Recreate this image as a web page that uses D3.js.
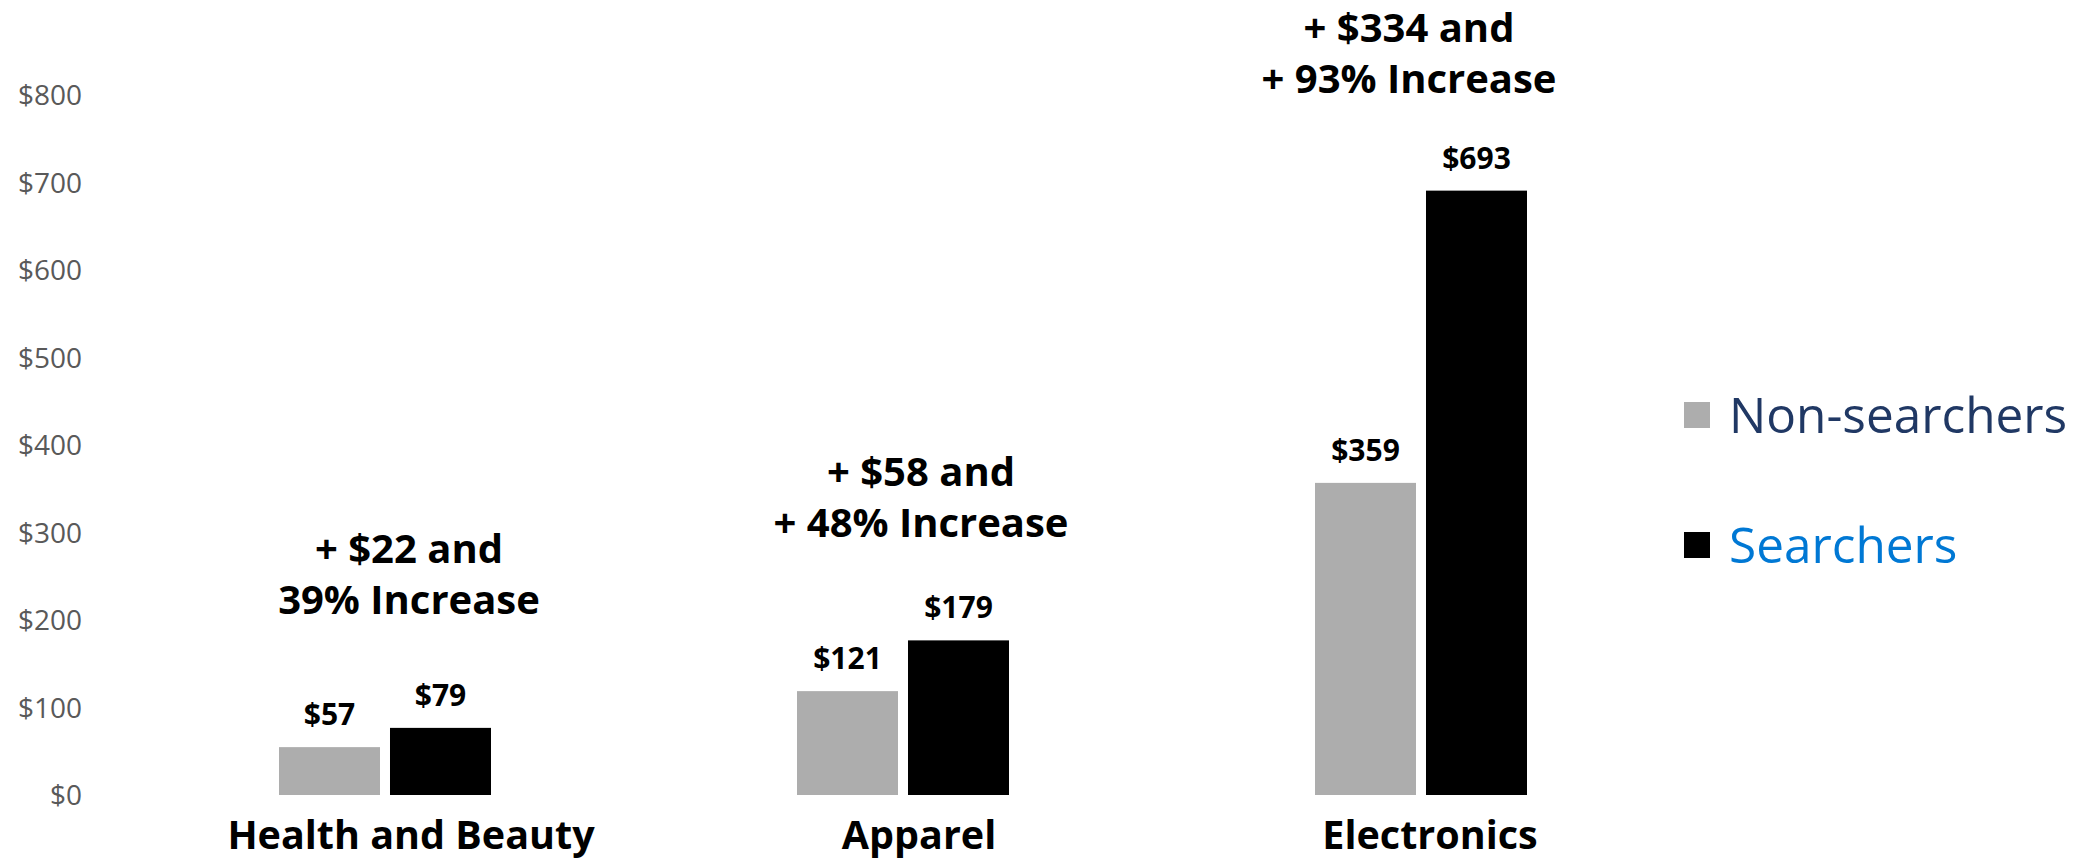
<!DOCTYPE html>
<html>
<head>
<meta charset="utf-8">
<script src="https://cdn.jsdelivr.net/npm/d3@7"></script>
<style>
  html, body { margin: 0; padding: 0; background: #ffffff; }
  svg { display: block; }
  text { font-family: "Open Sans", "Noto Sans", sans-serif; }
</style>
</head>
<body>
<svg id="chart" width="2088" height="860"></svg>
<script>
// Average spend per shopper, by category
const categories = ["Health and Beauty", "Apparel", "Electronics"];
const seriesNames = ["Non-searchers", "Searchers"];
const nonSearchers = [57, 121, 359];
const searchers = [79, 179, 693];
const yTicks = [0, 100, 200, 300, 400, 500, 600, 700, 800];
const annotationLines = [
  ["+ $22 and", "39% Increase"],
  ["+ $58 and", "+ 48% Increase"],
  ["+ $334 and", "+ 93% Increase"]
];

// Styling
const barColors = ["#adadad", "#000000"];
const legendTextColors = ["#203864", "#0078d4"];
// per-category nudges for the category labels and the callout text blocks
const labelNudge = [26, 16, 9];
const calloutNudge = [
  { dx: 24, gap: 113 },
  { dx: 18, gap: 102 },
  { dx: -12, gap: 97 }
];

const svg = d3.select("#chart");
const plot = { left: 126, right: 1680, top: 96, bottom: 796 };

const x0 = d3.scaleBand()
  .domain(categories)
  .range([plot.left, plot.right])
  .paddingInner(0)
  .paddingOuter(0);

const groupWidth = 214;
const x1 = d3.scaleBand()
  .domain(seriesNames)
  .range([-groupWidth / 2, groupWidth / 2])
  .paddingInner(0.072);

const y = d3.scaleLinear()
  .domain([0, 800])
  .range([plot.bottom, plot.top]);

// y axis (labels only)
const yAxis = d3.axisLeft(y)
  .tickValues(yTicks)
  .tickSize(0)
  .tickPadding(44)
  .tickFormat(d => "$" + d);

const gy = svg.append("g")
  .attr("transform", `translate(${plot.left},0)`)
  .call(yAxis);
gy.select(".domain").remove();
gy.selectAll("text")
  .attr("fill", "#595959")
  .style("font-size", "28px")
  .style("font-family", "'Open Sans', sans-serif");

// x axis (category labels only)
const xAxis = d3.axisBottom(x0)
  .tickSize(0)
  .tickPadding(25);
const gx = svg.append("g")
  .attr("transform", `translate(0,${plot.bottom})`)
  .call(xAxis);
gx.select(".domain").remove();
gx.selectAll("text")
  .attr("fill", "#000")
  .attr("dx", (d, i) => labelNudge[i])
  .style("font-size", "39.5px")
  .style("font-weight", "700")
  .style("font-family", "'Open Sans', sans-serif");

// bars
const rows = categories.map((c, i) => ({
  category: c,
  values: [
    { series: seriesNames[0], value: nonSearchers[i], color: barColors[0] },
    { series: seriesNames[1], value: searchers[i], color: barColors[1] }
  ]
}));

const groups = svg.append("g").selectAll("g.group")
  .data(rows)
  .join("g")
  .attr("class", "group")
  .attr("transform", d => `translate(${x0(d.category) + x0.bandwidth() / 2},0)`);

groups.selectAll("rect")
  .data(d => d.values)
  .join("rect")
  .attr("x", d => x1(d.series))
  .attr("width", x1.bandwidth())
  .attr("y", d => y(d.value))
  .attr("height", d => y(0) - y(d.value))
  .attr("fill", d => d.color)
  .attr("stroke", "#ffffff")
  .attr("stroke-width", 2);

// value labels
groups.selectAll("text.value")
  .data(d => d.values)
  .join("text")
  .attr("class", "value")
  .attr("x", d => x1(d.series) + x1.bandwidth() / 2)
  .attr("y", d => y(d.value) - 21)
  .attr("text-anchor", "middle")
  .attr("fill", "#000")
  .style("font-size", "30px")
  .style("font-weight", "700")
  .text(d => "$" + d.value);

// callouts above each category
const callouts = svg.append("g").selectAll("text.callout")
  .data(rows)
  .join("text")
  .attr("class", "callout")
  .attr("text-anchor", "middle")
  .attr("fill", "#000")
  .style("font-size", "40px")
  .style("font-weight", "700");

callouts.each(function (d, i) {
  const cx = x0(d.category) + x0.bandwidth() / 2 + calloutNudge[i].dx;
  const base2 = y(searchers[i]) - calloutNudge[i].gap;
  const lineGap = 51;
  d3.select(this).selectAll("tspan")
    .data(annotationLines[i])
    .join("tspan")
    .attr("x", cx)
    .attr("y", (t, j) => base2 - (1 - j) * lineGap)
    .text(t => t);
});

// legend
const legend = svg.append("g")
  .attr("transform", "translate(1684,0)");
const legendRowsY = [415, 545];
const legendItems = legend.selectAll("g")
  .data(seriesNames)
  .join("g")
  .attr("transform", (d, i) => `translate(0,${legendRowsY[i]})`);
legendItems.append("rect")
  .attr("x", 0)
  .attr("y", -13)
  .attr("width", 26)
  .attr("height", 26)
  .attr("fill", (d, i) => barColors[i]);
legendItems.append("text")
  .attr("x", 45)
  .attr("y", 18)
  .attr("fill", (d, i) => legendTextColors[i])
  .style("font-size", "49.5px")
  .text(d => d);
</script>
</body>
</html>
